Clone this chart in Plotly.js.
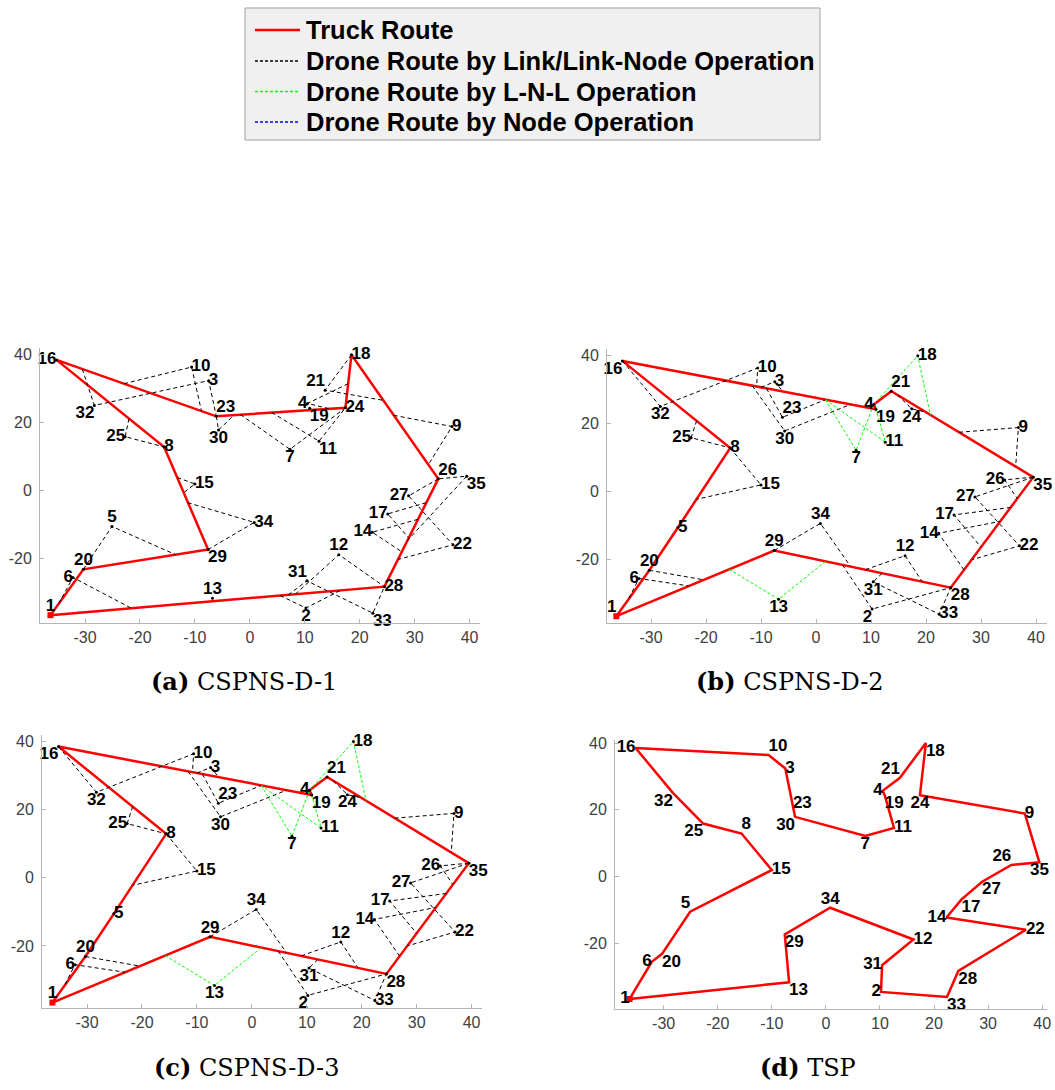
<!DOCTYPE html>
<html>
<head>
<meta charset="utf-8">
<script src="https://cdn.plot.ly/plotly-3.0.1.min.js"></script>
<style>
  html, body { margin: 0; padding: 0; background: #ffffff; }
  #chart { width: 1055px; height: 1090px; }
</style>
</head>
<body>
<div id="chart"></div>
<script>
// ---- node locations (node 1 is the depot) ----
const nodeIds = [1,2,3,4,5,6,7,8,9,10,11,12,13,14,15,16,17,18,19,20,21,22,23,24,25,26,27,28,29,30,31,32,33,34,35];
const nodeX = [-36.3, 10.2, -7.5, 10.5, -25.1, -32.2, 7.3, -15.6, 36.8, -10.6,
               12.6, 16.2, -6.8, 22.3, -10.0, -35.2, 25.1, 18.5, 10.9, -30.3,
               13.7, 37.0, -6.1, 17.4, -22.7, 34.3, 28.9, 24.5, -7.6, -5.7,
               10.4, -28.3, 22.4, 0.8, 39.5];
const nodeY = [-36.6, -34.5, 32.4, 25.7, -10.5, -25.5, 12.2, 12.9, 18.9, 36.4,
               14.6, -18.8, -31.6, -12.2, 2.0, 38.5, -6.8, 40.0, 24.3, -23.1,
               29.6, -15.9, 21.9, 24.4, 15.9, 3.5, -1.5, -28.2, -17.3, 17.9,
               -26.5, 25.1, -36.0, -9.3, 4.3];

// ---- truck tours (node ids in visiting order) ----
const truckRouteA = [1, 20, 29, 8, 16, 23, 24, 18, 26, 28, 1];
const truckRouteB = [1, 20, 5, 8, 16, 19, 4, 21, 35, 28, 29, 1];
const truckRouteC = [1, 20, 5, 8, 16, 19, 4, 21, 35, 28, 29, 1];
const truckRouteD = [1, 6, 20, 5, 15, 8, 25, 32, 16, 10, 3, 23, 30, 7, 11, 19, 4, 21, 18,
                     24, 9, 35, 26, 27, 17, 14, 22, 28, 33, 2, 31, 12, 34, 29, 13, 1];

// ---- drone sorties: a number is a node id, a pair is a launch/retrieval point on a truck link ----
const droneLinkA = [
  [[-30.5, 35.8], 32, 3, 23],
  [[-22.9, 31.5], 10, [-8.8, 23.4]],
  [23, 30, [-2.9, 22.2]],
  [[-1.7, 22.4], 7, 24],
  [[4.0, 23.0], 11, 24],
  [[17.9, 31.5], 4, [14.5, 24.1]],
  [18, 21, [24.3, 26.6]],
  [[26.2, 22.2], 9, [32.5, 7.7]],
  [26, 27, 22, [27.0, -20.2]],
  [[28.6, -14.8], 35, 26],
  [[32.1, -3.5], 17, [28.9, -13.8]],
  [[30.6, -8.4], 14, [27.7, -18.0]],
  [[8.3, -30.4], 12, 28],
  [[7.0, -30.6], 31, 33, 28],
  [[5.5, -30.8], 2, [16.5, -29.3]],
  [20, 5, [-13.5, -18.8]],
  [[-34.8, -33.2], 6, [-21.4, -34.7]],
  [[-11.3, -3.5], 34, 29],
  [[-13.2, 3.9], 15, [-12.0, -0.5]],
  [[-22.0, 21.2], 25, 8]
];

const droneLinkB = [
  [16, 32, 10, [-10.8, 31.0]],
  [[-11.6, 31.2], 30, [6.3, 25.7]],
  [[-9.0, 30.4], 23, [1.7, 27.1]],
  [[-10.0, 30.7], 3, [-6.0, 29.5]],
  [[-21.7, 20.9], 25, 8],
  [8, 15, [-21.7, -2.2]],
  [20, [-20.4, -25.9]],
  [[-34.0, -31.3], 6, [-23.1, -27.7]],
  [29, 34, [6.3, -22.0]],
  [[4.8, -21.5], 2, 28],
  [[12.0, -24.0], 31, 33, 28],
  [[9.0, -22.9], 12, [19.3, -26.4]],
  [[26.9, -23.0], 14, [33.5, -8.7]],
  [[35.4, -4.6], 17, [30.0, -16.3]],
  [35, 27, 22, [28.3, -20.0]],
  [35, 26, [36.6, -2.0]],
  [[26.0, 17.5], 9, [36.3, 7.4]],
  [[14.8, 28.5], 24, [19.9, 23.5]]
];
const droneLnlB = [
  [[1.7, 27.1], 7, 4],
  [[1.7, 27.1], 11, 19],
  [4, 18, [20.8, 22.6]],
  [[-15.8, -22.8], 13, [1.7, -20.5]]
];

const droneLinkC = droneLinkB;
const droneLnlC = droneLnlB;

// ---- axis ticks ----
const xTickVals = [-30, -20, -10, 0, 10, 20, 30, 40];
const xTickText = ['-30', '-20', '-10', '0', '10', '20', '30', '40'];
const yTickVals = [-20, 0, 20, 40];
const yTickText = ['-20', '0', '20', '40'];

// ---- legend entries and panel captions ----
const legendNames = ['Truck Route', 'Drone Route by Link/Link-Node Operation',
                     'Drone Route by L-N-L Operation', 'Drone Route by Node Operation'];
const captions = ['<b>(a)</b> CSPNS-D-1', '<b>(b)</b> CSPNS-D-2',
                  '<b>(c)</b> CSPNS-D-3', '<b>(d)</b> TSP'];

// ---- node label placement per panel ----
const P = {t: 'top center', b: 'bottom center', l: 'middle left', r: 'middle right',
           tl: 'top left', tr: 'top right', bl: 'bottom left', br: 'bottom right'};
const labelPosA = ['t','b','r','l','t','l','b','r','r','r','br','t','t','l','r','l','l','r','br','t',
                   'tl','r','tr','r','l','tr','l','r','br','b','tl','bl','br','r','br'];
const labelPosB = ['tl','bl','r','l','r','l','b','r','r','r','r','t','b','l','r','bl','l','r','br','t',
                   'tr','r','tr','b','l','l','l','br','t','b','b','b','r','t','br'];
const labelPosC = ['t','bl','r','l','r','l','b','r','r','r','r','t','b','l','r','bl','l','r','br','t',
                   'tr','r','tr','b','l','l','l','br','t','b','b','b','r','t','br'];
const labelPosD = ['l','l','r','l','tl','l','b','tr','r','tr','r','r','br','l','r','l','br','br','br','br',
                   'tl','r','r','b','bl','tl','br','br','br','bl','l','bl','br','t','b'];

// ---- helpers ----
function at(p) { return typeof p === 'number' ? [nodeX[p - 1], nodeY[p - 1]] : p; }
function tourXY(route) {
  return { x: route.map(n => nodeX[n - 1]), y: route.map(n => nodeY[n - 1]) };
}
function sortieXY(list) {
  const x = [], y = [];
  list.forEach(s => {
    s.forEach(p => { const q = at(p); x.push(q[0]); y.push(q[1]); });
    x.push(null); y.push(null);
  });
  return { x, y };
}

const W = 1055, H = 1090;
const RED = '#ff0000', GREEN = '#00ff00', BLUE = '#0000ff';
const SANS = 'Arial, Liberation Sans, sans-serif';
const styles = {
  truck: { color: RED, width: 2.5 },
  link: { color: '#000000', width: 1, dash: '4px,3px' },
  lnl: { color: GREEN, width: 1, dash: '3px,2px' },
  node: { color: BLUE, width: 1, dash: '4px,3px' }
};
const labelFont = { family: SANS, size: 17, color: '#000000', weight: 'bold' };

const traces = [];
const panels = [
  { ax: '', truck: truckRouteA, link: droneLinkA, lnl: null, pos: labelPosA, dots: true },
  { ax: '2', truck: truckRouteB, link: droneLinkB, lnl: droneLnlB, pos: labelPosB, dots: true },
  { ax: '3', truck: truckRouteC, link: droneLinkC, lnl: droneLnlC, pos: labelPosC, dots: true },
  { ax: '4', truck: truckRouteD, link: null, lnl: null, pos: labelPosD, dots: false }
];

panels.forEach(pn => {
  const xa = 'x' + pn.ax, ya = 'y' + pn.ax;
  const t = tourXY(pn.truck);
  traces.push({ type: 'scatter', mode: 'lines', x: t.x, y: t.y, xaxis: xa, yaxis: ya,
    line: styles.truck, name: legendNames[0], hoverinfo: 'skip' });
  if (pn.link) {
    const d = sortieXY(pn.link);
    traces.push({ type: 'scatter', mode: 'lines', x: d.x, y: d.y, xaxis: xa, yaxis: ya,
      line: styles.link, name: legendNames[1], hoverinfo: 'skip', connectgaps: false });
  }
  if (pn.lnl) {
    const g = sortieXY(pn.lnl);
    traces.push({ type: 'scatter', mode: 'lines', x: g.x, y: g.y, xaxis: xa, yaxis: ya,
      line: styles.lnl, name: legendNames[2], hoverinfo: 'skip', connectgaps: false });
  }
  if (pn.dots) {
    traces.push({ type: 'scatter', mode: 'markers', x: nodeX.slice(1), y: nodeY.slice(1),
      xaxis: xa, yaxis: ya, marker: { color: '#000000', size: 3 }, hoverinfo: 'skip' });
  }
  traces.push({ type: 'scatter', mode: 'markers', x: [nodeX[0]], y: [nodeY[0]], xaxis: xa, yaxis: ya,
    marker: { color: RED, size: 6, symbol: 'square' }, hoverinfo: 'skip' });
  traces.push({ type: 'scatter', mode: 'text', x: nodeX, y: nodeY, xaxis: xa, yaxis: ya,
    text: nodeIds.map(String), textposition: pn.pos.map(c => P[c]), textfont: labelFont,
    cliponaxis: false, hoverinfo: 'skip' });
});

// panel boxes in pixels: [left, right, top, bottom]
const boxes = [[40, 480, 348, 623], [607, 1047, 349, 623], [42, 482, 735, 1008], [615, 1047, 740, 1009]];
const ranges = [
  { x: [-38.2, 41.9], y: [-38.9, 42.0] },
  { x: [-38.0, 42.0], y: [-38.6, 42.0] },
  { x: [-38.2, 41.9], y: [-38.2, 41.9] },
  { x: [-39.0, 40.9], y: [-39.6, 40.9] }
];

const tickFont = { family: SANS, size: 16, color: '#404040' };
const layout = {
  width: W, height: H,
  margin: { l: 0, r: 0, t: 0, b: 0 },
  paper_bgcolor: '#ffffff', plot_bgcolor: '#ffffff',
  showlegend: false,
  shapes: [], annotations: []
};

boxes.forEach((b, i) => {
  const s = i === 0 ? '' : String(i + 1);
  layout['xaxis' + s] = {
    domain: [b[0] / W, b[1] / W], range: ranges[i].x, anchor: 'y' + s,
    tickmode: 'array', tickvals: xTickVals, ticktext: xTickText,
    ticks: 'inside', ticklen: 4, tickcolor: '#b4b4b4',
    showline: true, linecolor: '#b4b4b4', linewidth: 1,
    showgrid: false, zeroline: false, tickfont: tickFont, fixedrange: true
  };
  layout['yaxis' + s] = {
    domain: [1 - b[3] / H, 1 - b[2] / H], range: ranges[i].y, anchor: 'x' + s,
    tickmode: 'array', tickvals: yTickVals, ticktext: yTickText,
    ticks: 'inside', ticklen: 4, tickcolor: '#b4b4b4',
    showline: true, linecolor: '#b4b4b4', linewidth: 1,
    showgrid: false, zeroline: false, tickfont: tickFont, fixedrange: true,
    ticklabelstandoff: 4
  };
});

// shared legend box drawn in page pixels
const px = v => v / W, py = v => 1 - v / H;
layout.shapes.push({ type: 'rect', xref: 'paper', yref: 'paper',
  x0: px(245), x1: px(820), y0: py(8), y1: py(140),
  fillcolor: '#f0f0f0', line: { color: '#a0a0a0', width: 1 }, layer: 'below' });
const legendSamples = [
  styles.truck,
  { color: '#000000', width: 1.5, dash: '3px,2px' },
  { color: GREEN, width: 1.5, dash: '3px,2px' },
  { color: BLUE, width: 1.5, dash: '3px,2px' }
];
const legendRows = [30, 61, 91.5, 122];
legendNames.forEach((name, i) => {
  layout.shapes.push({ type: 'line', xref: 'paper', yref: 'paper',
    x0: px(255), x1: px(300), y0: py(legendRows[i]), y1: py(legendRows[i]),
    line: legendSamples[i] });
  layout.annotations.push({ xref: 'paper', yref: 'paper', x: px(304), y: py(legendRows[i]),
    xanchor: 'left', yanchor: 'middle', showarrow: false, text: name,
    font: { family: SANS, size: 25.5, color: '#000000', weight: 'bold' } });
});

const captionPos = [[244, 681], [790, 681], [246, 1067], [808, 1067]];
captions.forEach((c, i) => {
  layout.annotations.push({
    xref: 'paper', yref: 'paper', x: px(captionPos[i][0]), y: py(captionPos[i][1]),
    xanchor: 'center', yanchor: 'middle', showarrow: false, text: c,
    font: { family: 'DejaVu Serif, serif', size: 24, color: '#000000' }
  });
});

Plotly.newPlot('chart', traces, layout, { displayModeBar: false, staticPlot: true });
</script>
</body>
</html>
